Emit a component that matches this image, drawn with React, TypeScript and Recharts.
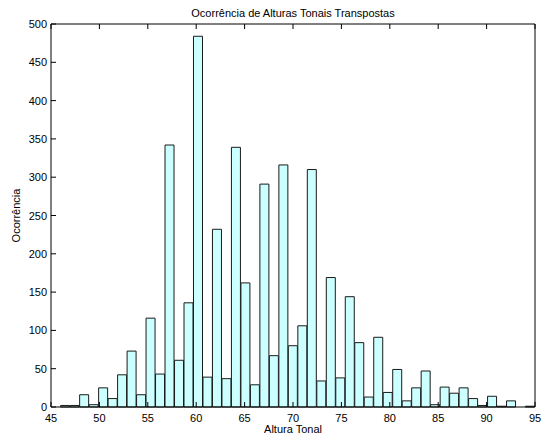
import React from 'react';
import { BarChart, Bar, XAxis, YAxis, Label } from 'recharts';

const binCenters = [
  46.49, 47.47, 48.45, 49.43, 50.41, 51.39, 52.37, 53.35, 54.33, 55.31,
  56.29, 57.27, 58.25, 59.23, 60.21, 61.19, 62.17, 63.15, 64.13, 65.11,
  66.09, 67.07, 68.05, 69.03, 70.01, 70.99, 71.97, 72.95, 73.93, 74.91,
  75.89, 76.87, 77.85, 78.83, 79.81, 80.79, 81.77, 82.75, 83.73, 84.71,
  85.69, 86.67, 87.65, 88.63, 89.61, 90.59, 91.57, 92.55, 93.53, 94.51,
];
const counts = [
  2, 2, 16, 3, 25, 11, 42, 73, 16, 116,
  43, 342, 61, 136, 484, 39, 232, 37, 339, 162,
  29, 291, 67, 316, 80, 106, 310, 34, 169, 38,
  144, 84, 13, 91, 19, 49, 8, 25, 47, 3,
  26, 18, 25, 11, 2, 14, 1, 8, 0, 1,
];
const xTicks = [45, 50, 55, 60, 65, 70, 75, 80, 85, 90, 95];
const yTicks = [0, 50, 100, 150, 200, 250, 300, 350, 400, 450, 500];
const title = 'Ocorrência de Alturas Tonais Transpostas';
const xLabel = 'Altura Tonal';
const yLabel = 'Ocorrência';

const data = binCenters.map((x, i) => ({ x, n: counts[i] }));

const FONT = '"Liberation Sans", Arial, Helvetica, sans-serif';
const FS = 11;

const BottomTick = (p: any) => (
  <g>
    <line x1={p.x} x2={p.x} y1={p.y} y2={p.y - 5} stroke="#000" />
    <text x={p.x} y={p.y + 14.5} textAnchor="middle" fontSize={FS} fontFamily={FONT} fill="#000">
      {p.payload.value}
    </text>
  </g>
);
const TopTick = (p: any) => (
  <line x1={p.x} x2={p.x} y1={p.y} y2={p.y + 5} stroke="#000" />
);
const LeftTick = (p: any) => (
  <g>
    <line x1={p.x} x2={p.x + 5} y1={p.y} y2={p.y} stroke="#000" />
    <text x={p.x - 4} y={p.y + 4} textAnchor="end" fontSize={FS} fontFamily={FONT} fill="#000">
      {p.payload.value}
    </text>
  </g>
);
const RightTick = (p: any) => (
  <line x1={p.x} x2={p.x - 5} y1={p.y} y2={p.y} stroke="#000" />
);

export default function App() {
  return (
    <div style={{ position: 'absolute', left: 0, top: 0, background: '#fff' }}>
      <BarChart
        width={543}
        height={437}
        data={data}
        margin={{ top: 23, right: 7, bottom: 29, left: 50 }}
        barCategoryGap={0}
        barGap={0}
      >
        <Bar dataKey="n" fill="#ccffff" stroke="#1a1a1a" strokeWidth={1} isAnimationActive={false} />
        <XAxis
          dataKey="x"
          type="number"
          domain={[45, 95]}
          ticks={xTicks}
          allowDataOverflow
          height={1}
          tickSize={0}
          tickMargin={0}
          tick={BottomTick}
          axisLine={{ stroke: '#000' }}
          tickLine={false}
          interval={0}
        >
          <Label
            content={(props: any) => {
              const vb = props.viewBox;
              return (
                <text x={vb.x + vb.width / 2} y={vb.y + 26} textAnchor="middle" fontSize={FS} fontFamily={FONT} fill="#000">
                  {xLabel}
                </text>
              );
            }}
          />
        </XAxis>
        <XAxis
          xAxisId="top"
          orientation="top"
          dataKey="x"
          type="number"
          domain={[45, 95]}
          ticks={xTicks}
          allowDataOverflow
          height={1}
          tickSize={0}
          tickMargin={0}
          tick={TopTick}
          axisLine={{ stroke: '#000' }}
          tickLine={false}
          interval={0}
        >
          <Label
            content={(props: any) => {
              const vb = props.viewBox;
              return (
                <text x={vb.x + vb.width / 2} y={vb.y - 6} textAnchor="middle" fontSize={FS} fontFamily={FONT} fill="#000">
                  {title}
                </text>
              );
            }}
          />
        </XAxis>
        <YAxis
          type="number"
          domain={[0, 500]}
          ticks={yTicks}
          width={1}
          tickSize={0}
          tickMargin={0}
          tick={LeftTick}
          axisLine={{ stroke: '#000' }}
          tickLine={false}
          interval={0}
        >
          <Label
            content={(props: any) => {
              const vb = props.viewBox;
              const cx = vb.x - 30;
              const cy = vb.y + vb.height / 2;
              return (
                <text x={cx} y={cy} transform={`rotate(-90, ${cx}, ${cy})`} textAnchor="middle" fontSize={FS} fontFamily={FONT} fill="#000">
                  {yLabel}
                </text>
              );
            }}
          />
        </YAxis>
        <YAxis
          yAxisId="right"
          orientation="right"
          type="number"
          domain={[0, 500]}
          ticks={yTicks}
          width={1}
          tickSize={0}
          tickMargin={0}
          tick={RightTick}
          axisLine={{ stroke: '#000' }}
          tickLine={false}
          interval={0}
        />
      </BarChart>
    </div>
  );
}
